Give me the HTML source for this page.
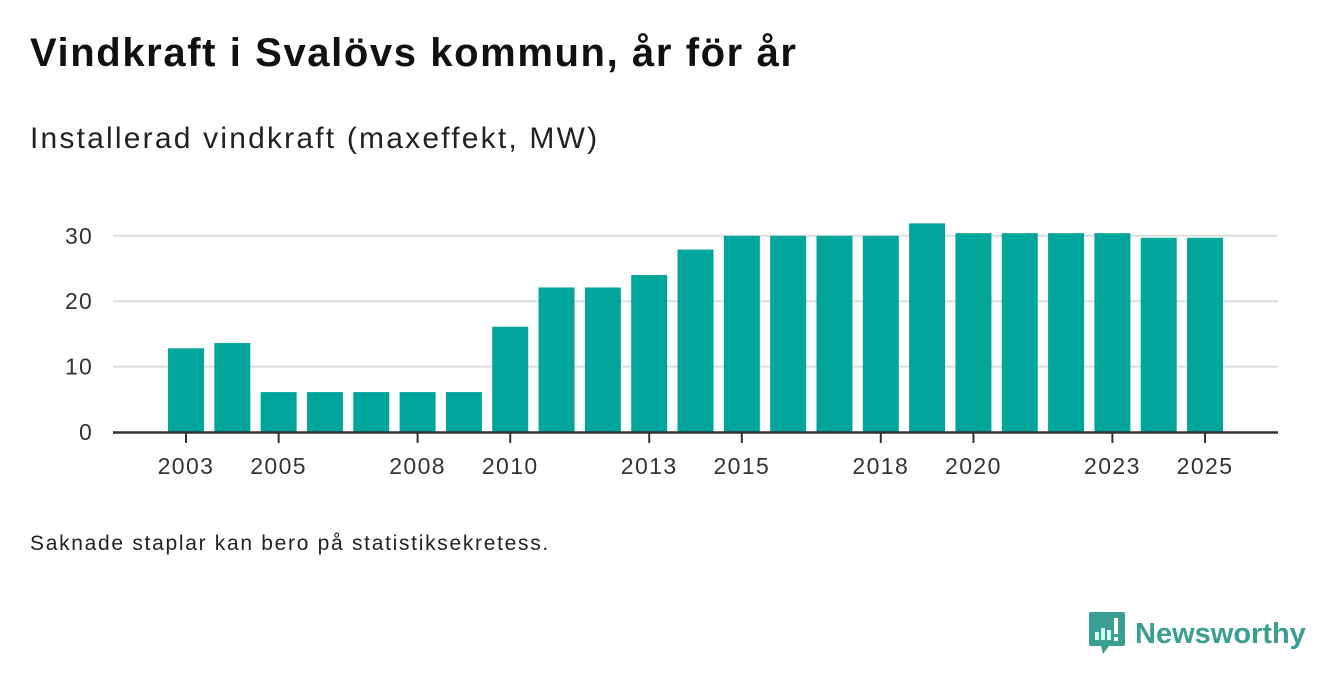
<!DOCTYPE html>
<html><head><meta charset="utf-8"><style>
body{margin:0;width:1340px;height:685px;background:#fff;font-family:"Liberation Sans",sans-serif;overflow:hidden;position:relative}
.t{position:absolute;left:30px;top:31px;font-size:40px;letter-spacing:1.6px;font-weight:bold;color:#111}
.s{position:absolute;left:30px;top:122px;font-size:30px;letter-spacing:2.2px;color:#222}
.n{position:absolute;left:30px;top:532px;font-size:21px;letter-spacing:1.7px;color:#222}
.logo{position:absolute;left:1089px;top:612px;display:flex;align-items:center}
</style></head><body>
<div class="t">Vindkraft i Svalövs kommun, år för år</div>
<div class="s">Installerad vindkraft (maxeffekt, MW)</div>
<svg id="c" width="1340" height="685" style="position:absolute;left:0;top:0"></svg>
<div class="n">Saknade staplar kan bero på statistiksekretess.</div>
<div class="logo">
<svg width="36" height="44" viewBox="0 0 36 44"><path d="M2 0h32a2 2 0 0 1 2 2v30a2 2 0 0 1-2 2H20l-6 8-2-8H2a2 2 0 0 1-2-2V2a2 2 0 0 1 2-2z" fill="#3a9e92"/><rect x="6" y="20" width="4" height="8" fill="#cfe"/><rect x="12" y="16" width="4" height="12" fill="#cfe"/><rect x="18" y="18" width="4" height="10" fill="#cfe"/><rect x="25" y="6" width="4" height="16" fill="#fff"/><rect x="25" y="25" width="4" height="4" fill="#fff"/></svg>
<span style="font-size:29px;font-weight:bold;color:#3a9e92;margin-left:10px">Newsworthy</span></div>
<script>
const years=[2003,2004,2005,2006,2007,2008,2009,2010,2011,2012,2013,2014,2015,2016,2017,2018,2019,2020,2021,2022,2023,2024,2025];
const values=[12.8,13.6,6.1,6.1,6.1,6.1,6.1,16.1,22.1,22.1,24,27.9,30,30,30,30,31.9,30.4,30.4,30.4,30.4,29.7,29.7];
const yTicks=[0,10,20,30];
const xTickYears=[2003,2005,2008,2010,2013,2015,2018,2020,2023,2025];
const NS="http://www.w3.org/2000/svg",svg=document.getElementById('c');
const x=y=>186+(y-2003)*46.32, yv=v=>432-v*6.54;
function mk(t,a){const e=document.createElementNS(NS,t);for(const k in a)e.setAttribute(k,a[k]);svg.appendChild(e);return e;}
yTicks.forEach(v=>{
 if(v>0){const l=mk('line',{x1:113,x2:1278,y1:yv(v),y2:yv(v),stroke:'#ddd','stroke-width':2});
 
 }
 const t=mk('text',{x:93,y:yv(v)+8,'text-anchor':'end','font-size':23,'letter-spacing':1.2,fill:'#333','font-family':'Liberation Sans'});t.textContent=v;
 
 
});
years.forEach((yr,i)=>{
 const r=mk('rect',{x:x(yr)-18,y:yv(values[i]),width:36,height:values[i]*6.54,fill:'#00a59b'});
 
 
});
const ax=mk('line',{x1:113,x2:1278,y1:432.5,y2:432.5,stroke:'#333','stroke-width':2.5});


xTickYears.forEach(yr=>{
 mk('line',{x1:x(yr),x2:x(yr),y1:433,y2:443,stroke:'#333','stroke-width':2});
 const t=mk('text',{x:x(yr),y:474,'text-anchor':'middle','font-size':23,'letter-spacing':1.4,fill:'#333','font-family':'Liberation Sans'});t.textContent=yr;
 
 
});
</script>
</body></html>
